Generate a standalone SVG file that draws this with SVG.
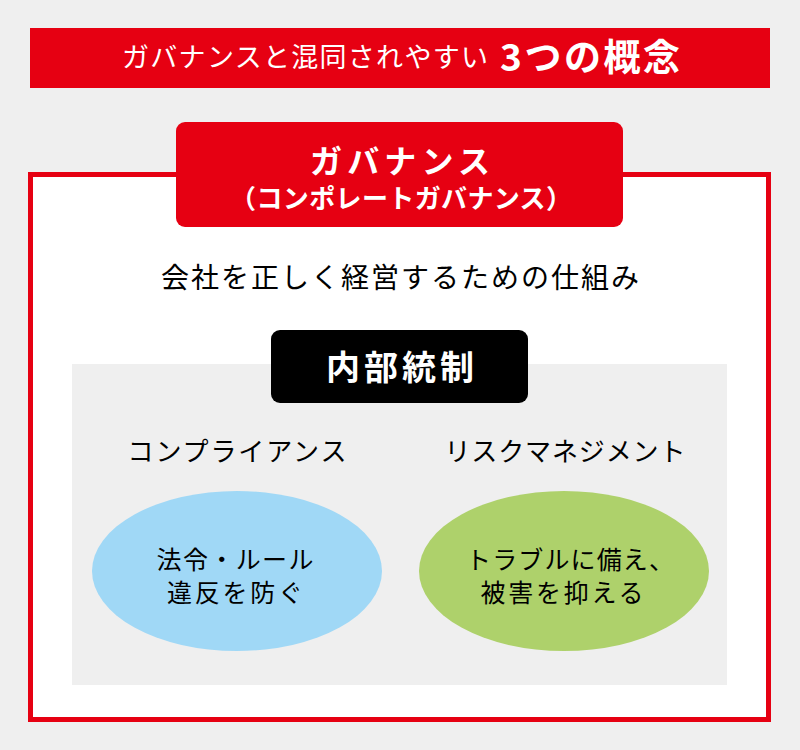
<svg xmlns="http://www.w3.org/2000/svg" width="800" height="750" viewBox="0 0 800 750">
<style>
text{font-family:"Noto Sans CJK JP","Noto Sans CJK SC",sans-serif;}
.w{fill:#ffffff;}
.b{fill:#000000;}
.bold{font-weight:bold;}
.c{text-anchor:middle;}
</style>
<rect x="0" y="0" width="800" height="750" fill="#efefef"/>
<g id="banner">
<rect x="30" y="28" width="740" height="60" fill="#e60012"/>
<text class="w" x="122" y="67" font-size="27" textLength="366" lengthAdjust="spacing">ガバナンスと混同されやすい</text>
<text class="w bold" x="500" y="71" font-size="37" textLength="180" lengthAdjust="spacing">3つの概念</text>
</g>
<g id="governance-frame">
<rect x="30.5" y="174.5" width="738" height="545" fill="#ffffff" stroke="#e60012" stroke-width="5"/>
</g>
<g id="governance-title">
<rect x="176" y="122" width="447" height="105" rx="9" fill="#e60012"/>
<text class="w bold c" x="400" y="173" font-size="32" textLength="180" lengthAdjust="spacing">ガバナンス</text>
<text class="w bold c" x="401" y="208" font-size="26" textLength="342" lengthAdjust="spacing">（コンポレートガバナンス）</text>
</g>
<g id="governance-desc">
<text class="b c" x="400" y="288" font-size="28" textLength="478" lengthAdjust="spacing">会社を正しく経営するための仕組み</text>
</g>
<g id="internal-control">
<rect x="72" y="364" width="655" height="321" fill="#efefef"/>
<rect x="271" y="330" width="257" height="73" rx="9" fill="#000000"/>
<text class="w bold c" x="400" y="380" font-size="34" textLength="148" lengthAdjust="spacing">内部統制</text>
</g>
<g id="compliance">
<text class="b c" x="237" y="461" font-size="26" textLength="219" lengthAdjust="spacing">コンプライアンス</text>
<ellipse cx="237" cy="571" rx="145" ry="80" fill="#a0d8f6"/>
<text class="b c" x="235" y="569" font-size="25" textLength="157" lengthAdjust="spacing">法令・ルール</text>
<text class="b c" x="235" y="602" font-size="25" textLength="136" lengthAdjust="spacing">違反を防ぐ</text>
</g>
<g id="risk-management">
<text class="b c" x="565" y="461" font-size="26" textLength="241" lengthAdjust="spacing">リスクマネジメント</text>
<ellipse cx="564" cy="571" rx="145" ry="80" fill="#aed16b"/>
<text class="b c" x="570" y="569" font-size="25" textLength="208" lengthAdjust="spacing">トラブルに備え、</text>
<text class="b c" x="562" y="602" font-size="25" textLength="163" lengthAdjust="spacing">被害を抑える</text>
</g>
<g id="connectors"></g>
</svg>
